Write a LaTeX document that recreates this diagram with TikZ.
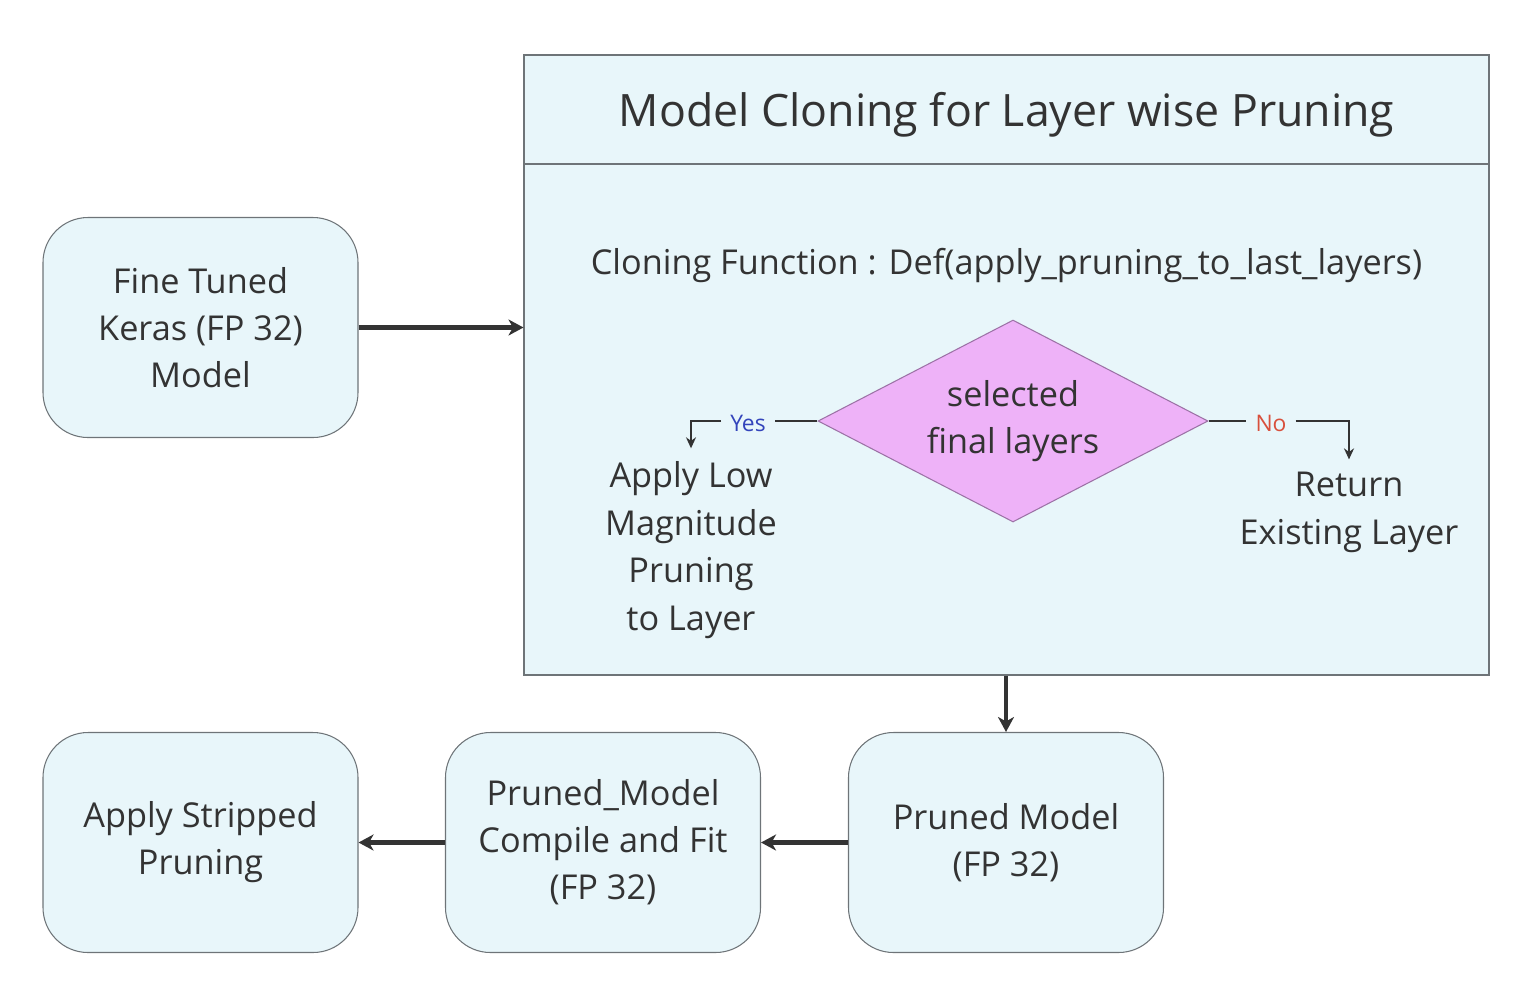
\documentclass[tikz,border=0pt]{standalone}
\usepackage{fontspec}
\setmainfont{Open Sans}
\usepackage{tikz}
\usetikzlibrary{arrows.meta,positioning,shapes.geometric}
\definecolor{boxcyan}{HTML}{E8F6FA}
\definecolor{boxline}{HTML}{6E7478}
\definecolor{decpink}{HTML}{EEB2F8}
\definecolor{decline}{HTML}{9C72A6}
\definecolor{ink}{HTML}{333333}
\definecolor{yesblue}{HTML}{3344BB}
\definecolor{nored}{HTML}{D8503C}
\tikzset{
  stage/.style={
    rectangle,
    rounded corners=0.9cm,
    draw=boxline,
    line width=0.6pt,
    fill=boxcyan,
    align=center,
    minimum width=6.3cm,
    minimum height=4.4cm,
    text=ink,
    font=\fontsize{19.5}{26.8}\selectfont
  },
  panel/.style={
    rectangle,
    draw=boxline,
    line width=0.6pt,
    fill=boxcyan,
    minimum width=19.3cm,
    minimum height=12.4cm
  },
  decision/.style={
    diamond,
    aspect=1.93,
    draw=decline,
    line width=0.6pt,
    fill=decpink,
    align=center,
    minimum width=7.8cm,
    minimum height=4.04cm,
    inner sep=0pt,
    text=ink,
    font=\fontsize{19.5}{26.8}\selectfont
  },
  plain/.style={
    align=center,
    text=ink,
    font=\fontsize{19.5}{27.2}\selectfont
  },
  branch/.style={
    font=\fontsize{13}{15}\selectfont,
    inner sep=5pt
  },
  flow/.style={
    -{Stealth[length=3mm,width=3.2mm,inset=0.9mm]},
    draw=ink,
    line width=2.3pt
  },
  thinflow/.style={
    -{Stealth[length=2.2mm,width=2mm]},
    draw=ink,
    line width=1.1pt,
    shorten >=0.18cm
  }
}

\begin{document}
\begin{tikzpicture}
\useasboundingbox (0,0) rectangle (30.8,-19.88);

% Input model.
\node[stage] (tuned) at (4.01,-6.55) {Fine Tuned\\Keras (FP 32)\\Model};

% Cloning panel with header.
\node[panel] (clone) at (20.13,-7.3) {};
\coordinate (split) at (0,-3.28);
\draw[boxline, line width=0.6pt] (clone.west |- split) -- (clone.east |- split);
\node[plain, font=\fontsize{25.4}{30}\selectfont] (title) at (20.13,-2.3)
  {Model Cloning for Layer wise Pruning};
\node[plain] (func) at (20.13,-5.3)
  {Cloning Function : Def(apply\_pruning\_to\_last\_layers)};

% Decision and its two branches.
\node[decision] (pick) at (20.26,-8.42) {selected\\final layers};
\node[branch, text=yesblue] (yes) at (14.96,-8.46) {Yes};
\node[branch, text=nored] (no) at (25.42,-8.46) {No};
\node[plain, inner sep=2pt] (lowmag) at (13.82,-11.0)
  {Apply Low\\Magnitude\\Pruning\\to Layer};
\node[plain, inner sep=2pt] (keep) at (26.98,-10.25)
  {Return\\Existing Layer};

% Bottom row.
\node[stage] (pruned) at (20.12,-16.85) {Pruned Model\\(FP 32)};
\node[stage] (compile) at (12.06,-16.85) {Pruned\_Model\\Compile and Fit\\(FP 32)};
\node[stage] (strip) at (4.01,-16.85) {Apply Stripped\\Pruning};

% Arrows.
\draw[flow] (tuned.east) -- (clone.west |- tuned.east);
\draw[flow] (clone.south -| pruned.north) -- (pruned.north);
\draw[flow] (pruned.west) -- (compile.east);
\draw[flow] (compile.west) -- (strip.east);

\draw[ink, line width=1.1pt] (pick.west) -- (yes.east |- pick.west);
\draw[thinflow] (yes.west |- pick.west) -| (lowmag.north);
\draw[ink, line width=1.1pt] (pick.east) -- (no.west |- pick.east);
\draw[thinflow] (no.east |- pick.east) -| (keep.north);

\end{tikzpicture}
\end{document}
